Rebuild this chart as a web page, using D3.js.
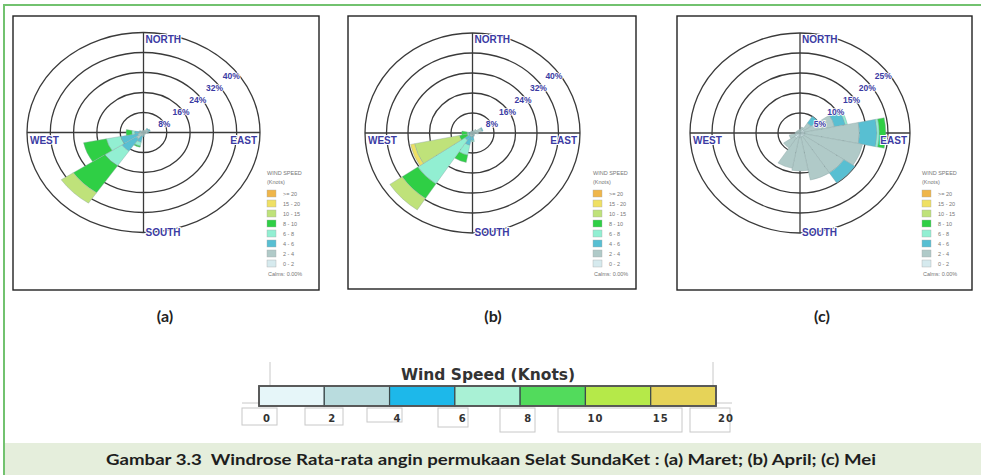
<!DOCTYPE html>
<html><head><meta charset="utf-8">
<script src="https://cdn.jsdelivr.net/npm/d3@7"></script>
<style>body{margin:0;background:#fff}svg{display:block}text{white-space:pre}</style>
</head><body><svg id="c" width="981" height="475"></svg>
<script>
// ---------------- DATA ----------------
const directions = ["N","NNE","NE","ENE","E","ESE","SE","SSE","S","SSW","SW","WSW","W","WNW","NW","NNW"];
const speedClasses = ["0 - 2","2 - 4","4 - 6","6 - 8","8 - 10","10 - 15","15 - 20",">= 20"];
const classColors = ["#d6eaee","#b0cac8","#58bfd2","#92efd2","#2fcf45","#bfe27a","#efe064","#efb64a"];
const legendLabels = [">= 20","15 - 20","10 - 15","8 - 10","6 - 8","4 - 6","2 - 4","0 - 2"];
const legendTitle = ["WIND SPEED","(Knots)"];
const calmsText = "Calms: 0.00%";

const maretRings = [8,16,24,32,40];
const aprilRings = [8,16,24,32,40];
const meiRings   = [5,10,15,20,25];

// frequency (%) per direction (rows, N..NNW) per speed class (columns 0-2 .. >=20)
const maret = [
  [0.4,0.4,0,0,0,0,0,0],
  [0.4,0.5,0,0,0,0,0,0],
  [0.6,1.0,0.5,0,0,0,0,0],
  [0.6,1.2,0.6,0,0,0,0,0],
  [0.5,0.9,0.3,0,0,0,0,0],
  [0.4,0.5,0,0,0,0,0,0],
  [0.4,0.5,0,0,0,0,0,0],
  [0.4,0.5,0,0,0,0,0,0],
  [0.5,0.7,0.4,0,0,0,0,0],
  [0.5,1.0,2.5,1.5,0.5,0,0,0],
  [1.0,2.0,6.0,7.0,13.0,5.0,0,0],
  [0.5,1.5,6.0,5.0,8.0,0,0,0],
  [0.5,1.0,1.5,1.0,2.0,0,0,0],
  [0.4,0.7,0.4,0,0,0,0,0],
  [0.4,0.5,0,0,0,0,0,0],
  [0.4,0.4,0,0,0,0,0,0]
];
const april = [
  [0.4,0.4,0,0,0,0,0,0],
  [0.4,0.6,0,0,0,0,0,0],
  [0.6,1.2,0,0,0,0,0,0],
  [0.8,2.8,0.4,0,0,0,0,0],
  [0.6,1.6,0,0,0,0,0,0],
  [0.4,0.6,0,0,0,0,0,0],
  [0.4,0.5,0,0,0,0,0,0],
  [0.4,0.6,0.4,0,0,0,0,0],
  [0.5,1.0,1.5,0.5,0,0,0,0],
  [0.5,1.0,3.5,4.0,3.0,0,0,0],
  [0.5,1.0,2.0,21.0,7.0,5.5,0,0],
  [0.5,0.5,0.5,0.5,3.0,17.0,1.5,0],
  [0.4,0.5,0.5,0.6,2.0,0,0,0],
  [0.4,0.5,0,0,0,0,0,0],
  [0.4,0.4,0,0,0,0,0,0],
  [0.4,0.4,0,0,0,0,0,0]
];
const mei = [
  [0.4,0.5,0,0,0,0,0,0],
  [0.5,1.0,0,0,0,0,0,0],
  [1.0,2.0,2.0,0,0,0,0,0],
  [1.0,7.0,2.5,0.5,0,0,0,0],
  [1.0,12.5,4.0,0.5,1.5,0,0,0],
  [1.0,13.5,0,0,0,0,0,0],
  [1.0,11.0,3.0,0,0,0,0,0],
  [1.0,11.0,0,0,0,0,0,0],
  [1.0,8.5,0,0,0,0,0,0],
  [1.0,8.0,0,0,0,0,0,0],
  [1.5,3.0,0,0,0,0,0,0],
  [1.0,1.5,0,0,0,0,0,0],
  [0.5,0.6,0,0,0,0,0,0],
  [0.4,0.5,0,0,0,0,0,0],
  [0.4,0.4,0,0,0,0,0,0],
  [0.4,0.4,0,0,0,0,0,0]
];
const compassLabels = ["NORTH","SOUTH","WEST","EAST"];
const panelLabels = ["(a)","(b)","(c)"];

const scaleTitle = "Wind Speed (Knots)";
const scaleClasses = ["0-2","2-4","4-6","6-8","8-10","10-15","15-20"];
const scaleTicks = ["0","2","4","6","8","10","15","20"];
const scaleColors = ["#e6f6f9","#b9dcde","#1db8ea","#a9f1d5","#52db5c","#b5e949","#e6d358"];
const captionText = "Gambar 3.3  Windrose Rata-rata angin permukaan Selat SundaKet : (a) Maret; (b) April; (c) Mei";

// ---------------- DRAW ----------------
const svg = d3.select("#c");
svg.append("rect").attr("width",981).attr("height",475).attr("fill","#fff");

// caption band
svg.append("rect").attr("x",5).attr("y",443).attr("width",976).attr("height",32).attr("fill","#e5eedc");
// green border
svg.append("path").attr("d","M4,475 V5 H981").attr("fill","none").attr("stroke","#72c26f").attr("stroke-width",2);

const panels = [
  {data:maret, rings:maretRings, cx:143.5, cy:132.5, rx:116.5, ry:100, frame:[13,16,306,274], lx:267, lab:165},
  {data:april, rings:aprilRings, cx:472.5, cy:133, rx:107.5, ry:100, frame:[348,16,288,273], lx:593, lab:493},
  {data:mei,   rings:meiRings,   cx:800,   cy:133, rx:110,   ry:100, frame:[677,16,295,274], lx:922, lab:822}
];

const ang = d3.scaleBand().domain(directions).range([-Math.PI/16, 2*Math.PI - Math.PI/16]);
const blue = "#3b3ba3";

panels.forEach((p,pi)=>{
  const [fx,fy,fw,fh] = p.frame;
  svg.append("rect").attr("x",fx).attr("y",fy).attr("width",fw).attr("height",fh)
    .attr("fill","#fff").attr("stroke","#222").attr("stroke-width",1.4);

  const maxV = p.rings[p.rings.length-1];
  const r = d3.scaleLinear().domain([0,maxV]).range([0,p.ry]);
  const g = svg.append("g").attr("transform",`translate(${p.cx},${p.cy}) scale(${p.rx/p.ry},1)`);

  g.selectAll("circle").data(p.rings).join("circle")
    .attr("r",d=>r(d)).attr("fill","none").attr("stroke","#3a3a3a").attr("stroke-width",1.3)
    .attr("vector-effect","non-scaling-stroke");
  g.append("line").attr("x1",-r(maxV)).attr("x2",r(maxV)).attr("y1",0).attr("y2",0)
    .attr("stroke","#3a3a3a").attr("stroke-width",1.3).attr("vector-effect","non-scaling-stroke");
  g.append("line").attr("y1",-r(maxV)).attr("y2",r(maxV)).attr("x1",0).attr("x2",0)
    .attr("stroke","#3a3a3a").attr("stroke-width",1.3).attr("vector-effect","non-scaling-stroke");

  // petals
  const segs = [];
  p.data.forEach((row,di)=>{
    const cum = Array.from(d3.cumsum(row));
    row.forEach((v,k)=>{
      if(v>0) segs.push({dir:directions[di], k, r0:k?cum[k-1]:0, r1:cum[k]});
    });
  });
  const arc = d3.arc();
  g.selectAll("path.petal").data(segs).join("path").attr("class","petal")
    .attr("d",d=>arc({innerRadius:r(d.r0), outerRadius:r(d.r1),
        startAngle:ang(d.dir), endAngle:ang(d.dir)+ang.bandwidth()}))
    .attr("fill",d=>classColors[d.k])
    .attr("stroke","#8aa5a5").attr("stroke-width",0.4).attr("vector-effect","non-scaling-stroke");

  // compass labels
  const lab = (t,x,y,anchor)=>svg.append("text").attr("x",x).attr("y",y).attr("text-anchor",anchor)
    .attr("font-family","Liberation Sans, Arial, sans-serif").attr("font-weight","bold")
    .attr("font-size",10).attr("fill",blue)
    .attr("stroke","#fff").attr("stroke-width",2).attr("paint-order","stroke").text(t);
  lab(compassLabels[0], p.cx+2, p.cy-p.ry+10, "start");
  lab(compassLabels[1], p.cx+2, p.cy+p.ry+3, "start");
  lab(compassLabels[2], p.cx-p.rx+3, p.cy+11, "start");
  lab(compassLabels[3], p.cx+p.rx-3, p.cy+11, "end");

  // ring labels
  p.rings.forEach(v=>{
    const k = v/maxV;
    svg.append("text").attr("x",p.cx+p.rx*k*0.72+4).attr("y",p.cy-p.ry*k*0.6+4)
      .attr("text-anchor","middle").attr("dominant-baseline","middle")
      .attr("font-family","Liberation Sans, Arial, sans-serif").attr("font-weight","bold")
      .attr("font-size",8.5).attr("fill",blue)
      .attr("stroke","#fff").attr("stroke-width",1.5).attr("paint-order","stroke")
      .text(v+"%");
  });

  // legend
  const lg = svg.append("g").attr("font-family","Liberation Sans, Arial, sans-serif").attr("font-size",5.5).attr("fill","#777");
  lg.append("text").attr("x",p.lx).attr("y",175).text(legendTitle[0]);
  lg.append("text").attr("x",p.lx).attr("y",184).text(legendTitle[1]);
  legendLabels.forEach((t,i)=>{
    const ci = classColors.length-1-i;
    lg.append("rect").attr("x",p.lx).attr("y",190+i*10).attr("width",9).attr("height",7)
      .attr("fill",classColors[ci]).attr("stroke","#aaa").attr("stroke-width",0.4);
    lg.append("text").attr("x",p.lx+16).attr("y",195.5+i*10).text(t);
  });
  lg.append("text").attr("x",p.lx+1).attr("y",276).text(calmsText);

  // panel label
  svg.append("text").attr("x",p.lab).attr("y",322).attr("text-anchor","middle")
    .attr("font-family","Lato, sans-serif").attr("font-weight","bold").attr("font-size",16)
    .attr("fill","#222").text(panelLabels[pi]);
});

// ---------------- wind speed scale ----------------
const sx = d3.scaleBand().domain(scaleClasses).range([259,716]);
const sg = svg.append("g");
const boxStroke = "#c8c8c8";
sg.append("path").attr("d","M270,362 V386 M713,362 V386 M242,403 H259 M716,403 H732")
  .attr("stroke",boxStroke).attr("fill","none");
[[242,408,35,17],[305,408,38,17],[367,408,35,14],[438,408,30,19],[500,408,35,24],[558,408,124,24],[690,408,40,24]]
  .forEach(b=>sg.append("rect").attr("x",b[0]).attr("y",b[1]).attr("width",b[2]).attr("height",b[3])
     .attr("fill","none").attr("stroke",boxStroke).attr("stroke-width",1));

sg.append("text").attr("x",488).attr("y",380).attr("text-anchor","middle")
  .attr("font-family","DejaVu Sans, Verdana, sans-serif").attr("font-weight","bold")
  .attr("font-size",15.5).attr("fill","#333").text(scaleTitle);

sg.selectAll("rect.sw").data(scaleClasses).join("rect").attr("class","sw")
  .attr("x",d=>sx(d)).attr("y",386).attr("width",sx.bandwidth()).attr("height",20)
  .attr("fill",(d,i)=>scaleColors[i]).attr("stroke","#3c4a4c").attr("stroke-width",1.2);
sg.append("rect").attr("x",259).attr("y",386).attr("width",457).attr("height",20)
  .attr("fill","none").attr("stroke","#555").attr("stroke-width",1.8);

const tickX = scaleTicks.map((t,i)=> i<scaleClasses.length ? sx(scaleClasses[i]) : sx.range()[1]);
sg.selectAll("text.tk").data(scaleTicks).join("text").attr("class","tk")
  .attr("x",(d,i)=>tickX[i]+ (d.length>1?2:4)).attr("y",422)
  .attr("font-family","DejaVu Sans, Verdana, sans-serif").attr("font-weight","bold")
  .attr("font-size",10).attr("letter-spacing",1).attr("fill","#333").text(d=>d);

// caption
svg.append("text").attr("x",491).attr("y",465).attr("text-anchor","middle")
  .attr("font-family","Lato, sans-serif").attr("font-weight","bold").attr("font-size",16)
  .attr("textLength",770).attr("lengthAdjust","spacingAndGlyphs")
  .attr("fill","#1e1e1e").text(captionText);
</script></body></html>
